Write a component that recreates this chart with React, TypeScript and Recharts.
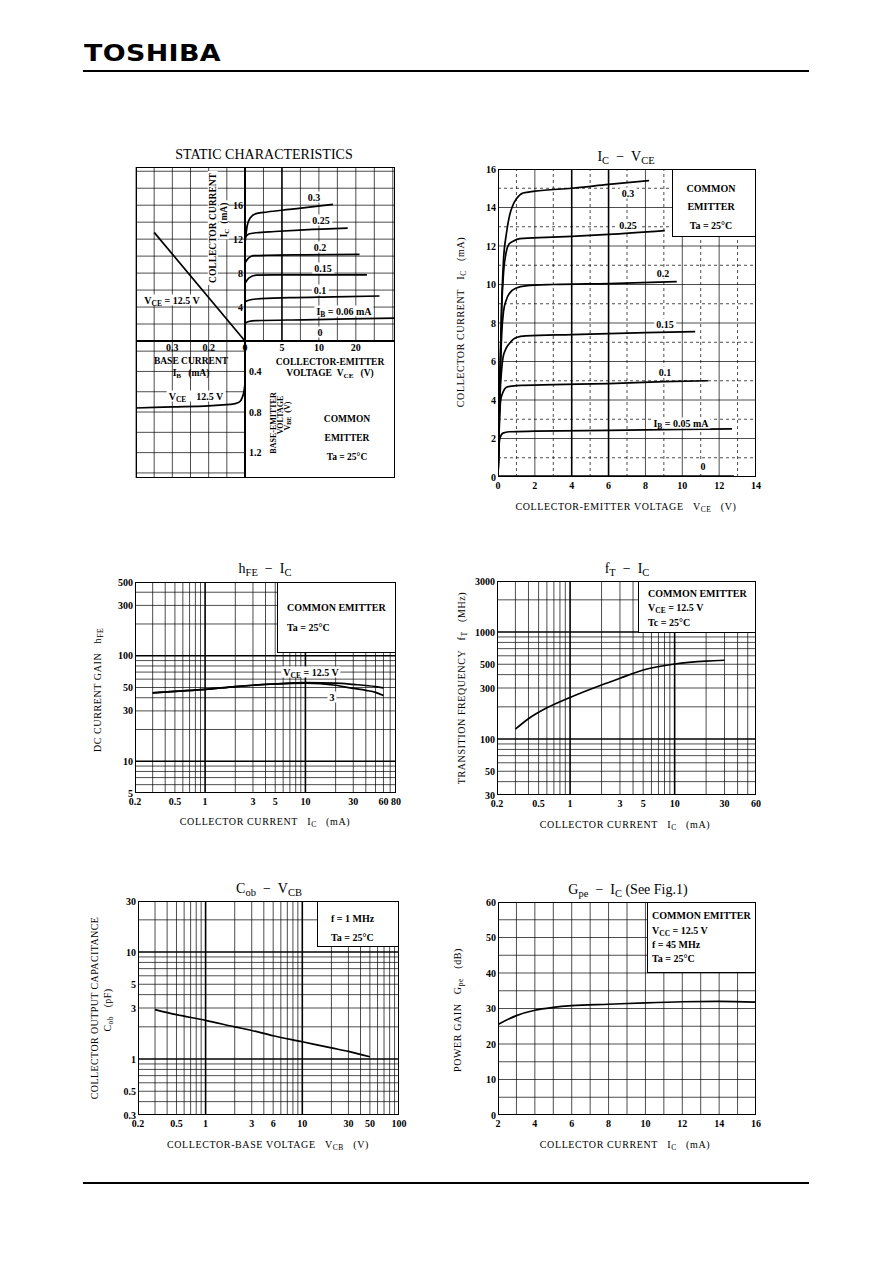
import React from 'react';
import { LineChart, Line, XAxis, YAxis, ReferenceLine } from 'recharts';

const FONT = "'Liberation Serif', 'Times New Roman', serif";

type Pt = { x: number; y: number };
const pts = (a: number[][]): Pt[] => a.map(([x, y]) => ({ x, y }));

// ---------- STATIC CHARACTERISTICS ----------
// top right quadrant: VCE (V) vs IC (mA)
const S_VCE_TICKS = [0, 5, 10, 15];
const S_VCE_LABELS = ['0', '5', '10', '20'];
const S_IC_TICKS = [4, 8, 12, 16];
const S_VCE_GRID = [2.5, 5, 7.5, 10, 12.5, 15, 17.5, 20];
const S_IC_GRID = [2, 4, 6, 8, 10, 12, 14, 16, 18, 20];
const S_IB030 = [[0, 11.5], [0.3, 13.6], [0.7, 14.5], [1.5, 15], [3, 15.2], [6, 15.5], [9, 15.8], [11.9, 16.1]];
const S_IB025 = [[0, 12.2], [0.5, 12.6], [1.5, 12.75], [4, 12.9], [8, 13.1], [13.9, 13.3]];
const S_IB020 = [[0, 9.2], [0.5, 9.8], [1.2, 10.05], [3, 10.1], [8, 10.15], [15.5, 10.2]];
const S_IB015 = [[0, 6.8], [0.5, 7.4], [1.5, 7.75], [4, 7.8], [10, 7.8], [16.5, 7.8]];
const S_IB010 = [[0, 4.6], [0.5, 4.8], [1.5, 4.95], [6, 5.1], [12, 5.2], [18.2, 5.3]];
const S_IB005 = [[0, 2.1], [0.5, 2.3], [1.5, 2.4], [8, 2.5], [14, 2.6], [20.3, 2.7]];
// top left quadrant: IB (mA) vs IC
const S_IB_TICKS = [0.1, 0.2];
const S_IB_LABELS = ['0.2', '0.3'];
const S_IB_GRID = [0.05, 0.1, 0.15, 0.2, 0.25, 0.3];
const S_IB_IC = [[0, 0], [0.25, 12.8]];
// bottom left quadrant: IB vs VBE (V)
const S_VBE_TICKS = [0.4, 0.8, 1.2];
const S_VBE_GRID = [0.2, 0.4, 0.6, 0.8, 1.0, 1.2, 1.4];
const S_IB_VBE = [[0, 0.52], [0.003, 0.6], [0.008, 0.66], [0.015, 0.7], [0.03, 0.72], [0.06, 0.73], [0.1, 0.74], [0.2, 0.75], [0.3, 0.76]];

// ---------- IC - VCE ----------
const B_X_TICKS = [0, 2, 4, 6, 8, 10, 12, 14];
const B_Y_TICKS = [0, 2, 4, 6, 8, 10, 12, 14, 16];
const B_X_GRID = [1, 2, 3, 4, 5, 6, 7, 8, 9, 10, 11, 12, 13];
const B_Y_GRID = [1, 2, 3, 4, 5, 6, 7, 8, 9, 10, 11, 12, 13, 14, 15];
const B_IB030 = [[0, 0], [0.1, 5], [0.2, 9], [0.3, 11.3], [0.45, 12.6], [0.63, 13.6], [0.8, 14.1], [1, 14.45], [1.36, 14.75], [2, 14.85], [4, 15], [6, 15.2], [8.2, 15.4]];
const B_IB025 = [[0, 0], [0.1, 5], [0.2, 8.8], [0.3, 10.6], [0.45, 11.7], [0.6, 12.1], [0.82, 12.25], [1.2, 12.38], [2.6, 12.45], [4, 12.5], [6, 12.6], [9.05, 12.8]];
const B_IB020 = [[0, 0], [0.1, 4.5], [0.2, 7.4], [0.3, 8.6], [0.45, 9.2], [0.63, 9.55], [1, 9.82], [1.5, 9.93], [3, 10], [6, 10.05], [9.7, 10.15]];
const B_IB015 = [[0, 0], [0.1, 4], [0.2, 5.6], [0.27, 6.2], [0.4, 6.6], [0.63, 6.95], [1, 7.25], [1.5, 7.33], [4, 7.4], [8, 7.5], [10.7, 7.55]];
const B_IB010 = [[0, 0], [0.08, 3], [0.15, 4], [0.27, 4.4], [0.5, 4.68], [1, 4.75], [3, 4.8], [6, 4.85], [9, 4.95], [11.4, 5]];
const B_IB005 = [[0, 0], [0.05, 1.5], [0.1, 2], [0.27, 2.28], [0.6, 2.35], [2, 2.38], [6, 2.42], [10, 2.47], [12.7, 2.5]];
const B_IB000 = [[0, 0.05], [12.8, 0.05]];

// ---------- hFE - IC ----------
const C_X_TICKS = [0.2, 0.5, 1, 3, 5, 10, 30, 60, 80];
const C_Y_TICKS = [5, 10, 30, 50, 100, 300, 500];
const C_X_GRID = [0.3, 0.4, 0.5, 0.6, 0.7, 0.8, 0.9, 1, 2, 3, 4, 5, 6, 7, 8, 9, 10, 20, 30, 40, 50, 60, 70];
const C_Y_GRID = [6, 7, 8, 9, 10, 20, 30, 40, 50, 60, 70, 80, 90, 100, 200, 300, 400];
const C_IC_125 = [0.3, 0.5, 1, 2, 3, 5, 10, 20, 30, 50, 60];
const C_HFE_125 = [44.5, 46, 48, 51, 52.5, 54, 55.5, 55, 53.5, 51, 49.5];
const C_IC_3 = [0.3, 0.5, 1, 2, 3, 5, 10, 20, 30, 40, 50, 60];
const C_HFE_3 = [44.5, 46, 48, 51, 52.5, 54, 55, 52.5, 49, 47, 45, 42];

// ---------- fT - IC ----------
const D_X_TICKS = [0.2, 0.5, 1, 3, 5, 10, 30, 60];
const D_Y_TICKS = [30, 50, 100, 300, 500, 1000, 3000];
const D_X_GRID = [0.3, 0.4, 0.5, 0.6, 0.7, 0.8, 0.9, 1, 2, 3, 4, 5, 6, 7, 8, 9, 10, 20, 30, 40, 50];
const D_Y_GRID = [40, 50, 60, 70, 80, 90, 100, 200, 300, 400, 500, 600, 700, 800, 900, 1000, 2000];
const D_IC = [0.3, 0.4, 0.6, 1, 2, 3, 5, 10, 20, 30];
const D_FT = [124, 155, 196, 245, 320, 370, 442, 503, 536, 545];

// ---------- Cob - VCB ----------
const E_X_TICKS = [0.2, 0.5, 1, 3, 5, 10, 30, 50, 100];
const E_X_LABELS = ['0.2', '0.5', '1', '3', '6', '10', '30', '50', '100'];
const E_Y_TICKS = [0.3, 0.5, 1, 3, 5, 10, 30];
const E_X_GRID = [0.3, 0.4, 0.5, 0.6, 0.7, 0.8, 0.9, 1, 2, 3, 4, 5, 6, 7, 8, 9, 10, 20, 30, 40, 50, 60, 70, 80, 90];
const E_Y_GRID = [0.4, 0.5, 0.6, 0.7, 0.8, 0.9, 1, 2, 3, 4, 5, 6, 7, 8, 9, 10, 20];
const E_VCB = [0.3, 0.5, 1, 2, 3, 5, 10, 20, 30, 50];
const E_COB = [2.9, 2.6, 2.3, 2.0, 1.85, 1.65, 1.45, 1.27, 1.18, 1.05];

// ---------- Gpe - IC ----------
const F_X_TICKS = [2, 4, 6, 8, 10, 12, 14, 16];
const F_Y_TICKS = [0, 10, 20, 30, 40, 50, 60];
const F_X_GRID = [3, 4, 5, 6, 7, 8, 9, 10, 11, 12, 13, 14, 15];
const F_Y_GRID = [5, 10, 15, 20, 25, 30, 35, 40, 45, 50, 55];
const F_IC = [2, 3, 4, 5, 6, 8, 10, 12, 14, 16];
const F_GPE = [25.5, 28, 29.5, 30.3, 30.8, 31.2, 31.6, 31.9, 32, 31.8];

const zip = (xs: number[], ys: number[]): Pt[] => xs.map((x, i) => ({ x, y: ys[i] }));

interface PlotProps {
  l: number; t: number; w: number; h: number;
  xDomain: number[]; yDomain: number[];
  xLog?: boolean; yLog?: boolean;
  xTicks?: number[]; xLabels?: string[];
  yTicks?: number[]; yLabels?: string[];
  xGrid?: number[]; yGrid?: number[];
  xBold?: number[]; yBold?: number[];
  xDash?: boolean; yDash?: boolean;
  xRev?: boolean; yRev?: boolean; yRight?: boolean;
  xMargin?: number; yMargin?: number;
  series: Pt[][];
  lw?: number;
}

const PAD = 36;
const tickStyle = { fontSize: 10, fontFamily: FONT, fontWeight: 700, fill: '#000' };

const fmt = (ticks?: number[], labels?: string[]) => (v: number) => {
  const i = ticks ? ticks.indexOf(v) : -1;
  return labels && i >= 0 ? labels[i] : String(v);
};

function Plot(p: PlotProps) {
  const margin = { top: PAD, right: PAD, bottom: p.xTicks ? 0 : PAD, left: PAD };
  if (p.yTicks) {
    if (p.yRight) margin.right = 0;
    else margin.left = 0;
  }
  return (
    <div style={{ position: 'absolute', left: p.l - PAD, top: p.t - PAD }}>
      <LineChart width={p.w + 2 * PAD} height={p.h + 2 * PAD} margin={margin}>
        <XAxis
          type="number"
          dataKey="x"
          domain={p.xDomain}
          scale={p.xLog ? 'log' : 'linear'}
          allowDataOverflow
          hide={!p.xTicks}
          ticks={p.xTicks}
          tickFormatter={fmt(p.xTicks, p.xLabels)}
          interval={0}
          reversed={p.xRev}
          height={PAD}
          tickLine={false}
          axisLine={false}
          tickSize={0}
          tickMargin={p.xMargin ?? 5}
          tick={tickStyle}
        />
        <YAxis
          type="number"
          domain={p.yDomain}
          scale={p.yLog ? 'log' : 'linear'}
          allowDataOverflow
          hide={!p.yTicks}
          ticks={p.yTicks}
          tickFormatter={fmt(p.yTicks, p.yLabels)}
          interval={0}
          reversed={p.yRev}
          orientation={p.yRight ? 'right' : 'left'}
          width={PAD}
          tickLine={false}
          axisLine={false}
          tickSize={0}
          tickMargin={p.yMargin ?? 2}
          tick={tickStyle}
        />
        {(p.xGrid || []).map((v) => (
          <ReferenceLine
            key={'x' + v}
            x={v}
            stroke="#000"
            strokeWidth={p.xBold && p.xBold.includes(v) ? 1.6 : 0.7}
            strokeDasharray={p.xDash && !(p.xTicks || []).includes(v) ? '3 3' : undefined}
          />
        ))}
        {(p.yGrid || []).map((v) => (
          <ReferenceLine
            key={'y' + v}
            y={v}
            stroke="#000"
            strokeWidth={p.yBold && p.yBold.includes(v) ? 1.6 : 0.7}
            strokeDasharray={p.yDash && !(p.yTicks || []).includes(v) ? '3 3' : undefined}
          />
        ))}
        {p.series.map((d, i) => (
          <Line
            key={i}
            data={d}
            dataKey="y"
            type="monotone"
            stroke="#000"
            strokeWidth={p.lw ?? 1.7}
            dot={false}
            isAnimationActive={false}
          />
        ))}
      </LineChart>
    </div>
  );
}

function T({ x, y, s = 9, b = false, a = 'c', r = 0, bg = false, ls = 0, children }: {
  x: number; y: number; s?: number; b?: boolean; a?: string; r?: number; bg?: boolean; ls?: number; children: React.ReactNode;
}) {
  const tx = a === 'c' ? '-50%' : a === 'r' ? '-100%' : '0%';
  return (
    <div
      style={{
        position: 'absolute',
        left: x,
        top: y,
        transform: `translate(${tx},-50%)` + (r ? ` rotate(${r}deg)` : ''),
        fontFamily: FONT,
        fontSize: s,
        fontWeight: b ? 700 : 400,
        whiteSpace: 'nowrap',
        lineHeight: 1.1,
        letterSpacing: ls,
        background: bg ? '#fff' : undefined,
        padding: bg ? '0 2px' : undefined,
        color: '#000',
      }}
    >
      {children}
    </div>
  );
}

const Sb = ({ children }: { children: React.ReactNode }) => (
  <sub style={{ fontSize: '0.75em', verticalAlign: '-0.3em', lineHeight: 0 }}>{children}</sub>
);

function Frame({ l, t, w, h }: { l: number; t: number; w: number; h: number }) {
  return (
    <div
      style={{
        position: 'absolute',
        left: l,
        top: t,
        width: w,
        height: h,
        boxSizing: 'border-box',
        border: '1px solid #000',
        borderLeftWidth: 1.5,
        borderBottomWidth: 1.5,
      }}
    />
  );
}

function Box({ l, t, r, b }: { l: number; t: number; r: number; b: number }) {
  return (
    <div
      style={{
        position: 'absolute',
        left: l,
        top: t,
        width: r - l,
        height: b - t,
        boxSizing: 'border-box',
        border: '1px solid #000',
        background: '#fff',
      }}
    />
  );
}

const AX = 10; // axis title size
const LG = 10; // legend size

export default function App() {
  const B = { l: 498, t: 169, w: 258, h: 308 };
  const C = { l: 135, t: 582, w: 261, h: 211 };
  const D = { l: 497, t: 581, w: 259, h: 214 };
  const E = { l: 138, t: 901, w: 261, h: 214 };
  const F = { l: 498, t: 902, w: 258, h: 213 };
  return (
    <div style={{ position: 'relative', width: 892, height: 1263, margin: -8, background: '#fff', overflow: 'hidden' }}>
      {/* header */}
      <div
        style={{
          position: 'absolute', left: 84, top: 42, fontFamily: "'DejaVu Sans', sans-serif", fontWeight: 900,
          fontSize: 23, lineHeight: 1, transform: 'scaleX(1.17)', transformOrigin: 'left top', letterSpacing: 0.3,
        }}
      >
        TOSHIBA
      </div>
      <div style={{ position: 'absolute', left: 83, top: 70, width: 726, height: 1.5, background: '#000' }} />
      <div style={{ position: 'absolute', left: 83, top: 1182, width: 726, height: 1.5, background: '#000' }} />

      {/* ===== STATIC CHARACTERISTICS ===== */}
      <T x={264} y={155} s={14}>STATIC CHARACTERISTICS</T>
      <Plot
        l={136} t={167} w={109} h={174}
        xDomain={[0, 0.3]} yDomain={[0, 20.5]} xRev
        xTicks={S_IB_TICKS} xLabels={S_IB_LABELS} xMargin={3}
        xGrid={S_IB_GRID} yGrid={S_IC_GRID}
        series={[pts(S_IB_IC)]}
      />
      <Plot
        l={136} t={341} w={109} h={137}
        xDomain={[0, 0.3]} yDomain={[0.1, 1.45]} xRev yRev yRight
        yTicks={S_VBE_TICKS} yMargin={4}
        xGrid={S_IB_GRID} yGrid={S_VBE_GRID}
        series={[pts(S_IB_VBE)]}
      />
      <Plot
        l={245} t={167} w={150} h={174}
        xDomain={[0, 20.3]} yDomain={[0, 20.5]}
        xTicks={S_VCE_TICKS} xLabels={S_VCE_LABELS} xMargin={3}
        yTicks={S_IC_TICKS} yMargin={2}
        xGrid={S_VCE_GRID} yGrid={S_IC_GRID} xBold={[5]}
        series={[S_IB030, S_IB025, S_IB020, S_IB015, S_IB010, S_IB005].map(pts)}
      />
      <div style={{ position: 'absolute', left: 136, top: 167, width: 259, height: 311, boxSizing: 'border-box', border: '1px solid #000' }} />
      <div style={{ position: 'absolute', left: 244, top: 167, width: 2, height: 311, background: '#000' }} />
      <div style={{ position: 'absolute', left: 136, top: 340, width: 259, height: 2, background: '#000' }} />
      <T x={330} y={362} s={9.5} b>COLLECTOR-EMITTER</T>
      <T x={330} y={373} s={9.5} b>VOLTAGE&nbsp;&nbsp;V<Sb>CE</Sb>&nbsp;&nbsp;&nbsp;(V)</T>
      <T x={274} y={423} s={8} b r={-90}>BASE-EMITTER</T>
      <T x={281} y={415} s={8} b r={-90}>VOLTAGE</T>
      <T x={288} y={416} s={8} b r={-90}>V<Sb>BE</Sb>&nbsp;&nbsp;(V)</T>
      <T x={347} y={419} s={9.5} b>COMMON</T>
      <T x={347} y={438} s={9.5} b>EMITTER</T>
      <T x={347} y={457} s={9.5} b>Ta = 25°C</T>
      <T x={191} y={361} s={9.5} b>BASE CURRENT</T>
      <T x={191} y={373} s={9.5} b>I<Sb>B</Sb>&nbsp;&nbsp;&nbsp;(mA)</T>
      <T x={213} y={228} s={9.5} b r={-90} bg>COLLECTOR CURRENT</T>
      <T x={224} y={220} s={9.5} b r={-90} bg>I<Sb>C</Sb>&nbsp;&nbsp;(mA)</T>
      <T x={172} y={300} s={10} b bg>V<Sb>CE</Sb> = 12.5 V</T>
      <T x={196} y={396} s={10} b bg>V<Sb>CE</Sb>&nbsp;&nbsp;&nbsp;&nbsp;12.5 V</T>
      <T x={314} y={197} s={10} b bg>0.3</T>
      <T x={321} y={220} s={10} b bg>0.25</T>
      <T x={320} y={247} s={10} b bg>0.2</T>
      <T x={323} y={268} s={10} b bg>0.15</T>
      <T x={320} y={290} s={10} b bg>0.1</T>
      <T x={344} y={311} s={10} b bg>I<Sb>B</Sb> = 0.06 mA</T>
      <T x={320} y={332} s={10} b bg>0</T>

      {/* ===== IC - VCE ===== */}
      <T x={626} y={157} s={14}>I<Sb>C</Sb>&nbsp;&nbsp;−&nbsp;&nbsp;V<Sb>CE</Sb></T>
      <Plot
        {...B}
        xDomain={[0, 14]} yDomain={[0, 16]}
        xTicks={B_X_TICKS} yTicks={B_Y_TICKS}
        xGrid={B_X_GRID} yGrid={B_Y_GRID} xDash yDash xBold={[4, 6]}
        series={[B_IB030, B_IB025, B_IB020, B_IB015, B_IB010, B_IB005, B_IB000].map(pts)}
      />
      <Frame {...B} />
      <Box l={672} t={169} r={756} b={237} />
      <T x={711} y={188} s={LG} b>COMMON</T>
      <T x={711} y={206} s={LG} b>EMITTER</T>
      <T x={711} y={225} s={LG} b>Ta = 25°C</T>
      <T x={628} y={193} s={10} b bg>0.3</T>
      <T x={628} y={225} s={10} b bg>0.25</T>
      <T x={663} y={273} s={10} b bg>0.2</T>
      <T x={665} y={324} s={10} b bg>0.15</T>
      <T x={665} y={372} s={10} b bg>0.1</T>
      <T x={681} y={423} s={10} b bg>I<Sb>B</Sb> = 0.05 mA</T>
      <T x={703} y={466} s={10} b bg>0</T>
      <T x={460} y={322} s={AX} r={-90} ls={0.6}>COLLECTOR CURRENT&nbsp;&nbsp;&nbsp;I<Sb>C</Sb>&nbsp;&nbsp;&nbsp;(mA)</T>
      <T x={626} y={506} s={AX} ls={0.6}>COLLECTOR-EMITTER VOLTAGE&nbsp;&nbsp;&nbsp;V<Sb>CE</Sb>&nbsp;&nbsp;&nbsp;(V)</T>

      {/* ===== hFE - IC ===== */}
      <T x={265} y={569} s={14}>h<Sb>FE</Sb>&nbsp;&nbsp;−&nbsp;&nbsp;I<Sb>C</Sb></T>
      <Plot
        {...C}
        xLog yLog xDomain={[0.2, 80]} yDomain={[5, 500]}
        xTicks={C_X_TICKS} yTicks={C_Y_TICKS}
        xGrid={C_X_GRID} yGrid={C_Y_GRID} xBold={[1, 10]} yBold={[10, 100]}
        series={[zip(C_IC_125, C_HFE_125), zip(C_IC_3, C_HFE_3)]}
      />
      <Frame {...C} />
      <Box l={277} t={582} r={396} b={653} />
      <T x={287} y={607} s={LG} b a="l">COMMON EMITTER</T>
      <T x={287} y={627} s={LG} b a="l">Ta = 25°C</T>
      <T x={311} y={672} s={10} b bg>V<Sb>CE</Sb> = 12.5 V</T>
      <T x={332} y={697} s={10} b bg>3</T>
      <T x={97} y={690} s={AX} r={-90} ls={0.6}>DC CURRENT GAIN&nbsp;&nbsp;&nbsp;h<Sb>FE</Sb></T>
      <T x={265} y={821} s={AX} ls={0.6}>COLLECTOR CURRENT&nbsp;&nbsp;&nbsp;I<Sb>C</Sb>&nbsp;&nbsp;&nbsp;(mA)</T>

      {/* ===== fT - IC ===== */}
      <T x={627} y={569} s={14}>f<Sb>T</Sb>&nbsp;&nbsp;−&nbsp;&nbsp;I<Sb>C</Sb></T>
      <Plot
        {...D}
        xLog yLog xDomain={[0.2, 60]} yDomain={[30, 3000]}
        xTicks={D_X_TICKS} yTicks={D_Y_TICKS}
        xGrid={D_X_GRID} yGrid={D_Y_GRID} xBold={[1, 10]} yBold={[100, 1000]}
        series={[zip(D_IC, D_FT)]}
      />
      <Frame {...D} />
      <Box l={638} t={581} r={756} b={633} />
      <T x={648} y={593} s={LG} b a="l">COMMON EMITTER</T>
      <T x={648} y={607} s={LG} b a="l">V<Sb>CE</Sb> = 12.5 V</T>
      <T x={648} y={622} s={LG} b a="l">Tc = 25°C</T>
      <T x={461} y={688} s={AX} r={-90} ls={0.6}>TRANSITION FREQUENCY&nbsp;&nbsp;&nbsp;f<Sb>T</Sb>&nbsp;&nbsp;&nbsp;(MHz)</T>
      <T x={625} y={824} s={AX} ls={0.6}>COLLECTOR CURRENT&nbsp;&nbsp;&nbsp;I<Sb>C</Sb>&nbsp;&nbsp;&nbsp;(mA)</T>

      {/* ===== Cob - VCB ===== */}
      <T x={269} y={889} s={14}>C<Sb>ob</Sb>&nbsp;&nbsp;−&nbsp;&nbsp;V<Sb>CB</Sb></T>
      <Plot
        {...E}
        xLog yLog xDomain={[0.2, 100]} yDomain={[0.3, 30]}
        xTicks={E_X_TICKS} xLabels={E_X_LABELS} yTicks={E_Y_TICKS}
        xGrid={E_X_GRID} yGrid={E_Y_GRID} xBold={[1, 10]} yBold={[1, 10]}
        series={[zip(E_VCB, E_COB)]}
      />
      <Frame {...E} />
      <Box l={317} t={901} r={399} b={947} />
      <T x={331} y={918} s={LG} b a="l">f = 1 MHz</T>
      <T x={331} y={937} s={LG} b a="l">Ta = 25°C</T>
      <T x={94} y={1008} s={AX} r={-90} ls={0.4}>COLLECTOR OUTPUT CAPACITANCE</T>
      <T x={107} y={1010} s={AX} r={-90} ls={0.4}>C<Sb>ob</Sb>&nbsp;&nbsp;&nbsp;(pF)</T>
      <T x={268} y={1144} s={AX} ls={0.6}>COLLECTOR-BASE VOLTAGE&nbsp;&nbsp;&nbsp;V<Sb>CB</Sb>&nbsp;&nbsp;&nbsp;(V)</T>

      {/* ===== Gpe - IC ===== */}
      <T x={628} y={890} s={14}>G<Sb>pe</Sb>&nbsp;&nbsp;−&nbsp;&nbsp;I<Sb>C</Sb>&nbsp;(See Fig.1)</T>
      <Plot
        {...F}
        xDomain={[2, 16]} yDomain={[0, 60]}
        xTicks={F_X_TICKS} yTicks={F_Y_TICKS}
        xGrid={F_X_GRID} yGrid={F_Y_GRID}
        series={[zip(F_IC, F_GPE)]}
      />
      <Frame {...F} />
      <Box l={647} t={902} r={756} b={973} />
      <T x={652} y={915} s={LG} b a="l">COMMON EMITTER</T>
      <T x={652} y={930} s={LG} b a="l">V<Sb>CC</Sb> = 12.5 V</T>
      <T x={652} y={944} s={LG} b a="l">f = 45 MHz</T>
      <T x={652} y={958} s={LG} b a="l">Ta = 25°C</T>
      <T x={457} y={1010} s={AX} r={-90} ls={0.6}>POWER GAIN&nbsp;&nbsp;&nbsp;G<Sb>pe</Sb>&nbsp;&nbsp;&nbsp;(dB)</T>
      <T x={625} y={1144} s={AX} ls={0.6}>COLLECTOR CURRENT&nbsp;&nbsp;&nbsp;I<Sb>C</Sb>&nbsp;&nbsp;&nbsp;(mA)</T>
    </div>
  );
}
